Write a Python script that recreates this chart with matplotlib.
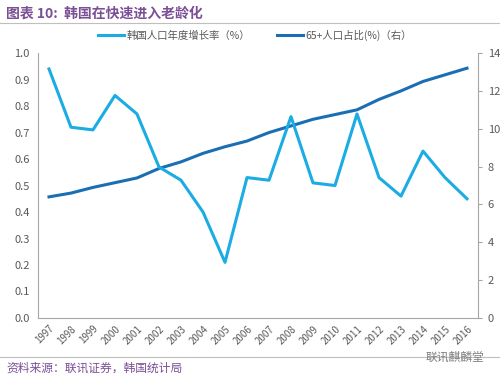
import matplotlib
matplotlib.use('Agg')
import matplotlib.pyplot as plt
from matplotlib.lines import Line2D

plt.rcParams['font.family'] = ['Noto Sans CJK SC', 'DejaVu Sans']

years = [str(y) for y in range(1997, 2017)]
growth = [0.94, 0.72, 0.71, 0.84, 0.77, 0.57, 0.52, 0.40, 0.21, 0.53,
          0.52, 0.76, 0.51, 0.50, 0.77, 0.53, 0.46, 0.63, 0.53, 0.45]
aged = [6.4, 6.6, 6.9, 7.15, 7.4, 7.9, 8.25, 8.7, 9.05, 9.35,
        9.8, 10.15, 10.5, 10.75, 11.0, 11.55, 12.0, 12.5, 12.85, 13.2]

LIGHT = '#1AACE3'
DARK = '#1A6EB4'
GRAY = '#595959'
PURPLE = '#7A4F96'

fig = plt.figure(figsize=(5.0, 3.79), dpi=100)
ax = fig.add_axes([0.076, 0.161, 0.88, 0.699])
ax2 = ax.twinx()

x = list(range(len(years)))
ax.plot(x, growth, color=LIGHT, lw=2.2, zorder=3)
ax2.plot(x, aged, color=DARK, lw=2.2, zorder=2)
ax.set_zorder(ax2.get_zorder() + 1)
ax.patch.set_visible(False)

ax.set_xlim(-0.5, len(years) - 0.5)
ax.set_ylim(0, 1.0)
ax2.set_ylim(0, 14)
ax.set_yticks([i / 10 for i in range(11)])
ax.set_yticklabels(['%.1f' % (i / 10) for i in range(11)])
ax2.set_yticks(range(0, 15, 2))
ax.set_xticks(x)
ax.set_xticklabels(years, rotation=45, ha='right', rotation_mode='anchor')

for a in (ax, ax2):
    for s in a.spines.values():
        s.set_visible(False)
    a.tick_params(colors=GRAY, labelsize=8)
ax.spines['left'].set_visible(True)
ax.spines['bottom'].set_visible(True)
ax.spines['left'].set_color('#A6A6A6')
ax.spines['bottom'].set_color('#A6A6A6')
ax2.spines['right'].set_visible(True)
ax2.spines['right'].set_color('#A6A6A6')
ax.tick_params(axis='y', length=0, pad=6)
ax.tick_params(axis='x', length=0, labelsize=7, pad=4)
ax2.tick_params(axis='y', length=3, color='#A6A6A6', pad=4)

fig.text(0.012, 0.965, '图表 10:  韩国在快速进入老龄化', color=PURPLE,
         fontsize=10, fontweight='bold', va='center')
fig.add_artist(Line2D([0, 1], [0.938, 0.938], color='#BFBFBF', lw=0.8))
fig.add_artist(Line2D([0, 1], [0.058, 0.058], color='#BFBFBF', lw=0.8))
fig.text(0.012, 0.028, '资料来源：联讯证券，韩国统计局', color=PURPLE,
         fontsize=8.5, style='italic', va='center')
fig.text(0.968, 0.058, '联讯麒麟堂', color='#7F7F7F', fontsize=8.5,
         ha='right', va='center')

handles = [Line2D([], [], color=LIGHT, lw=2.2), Line2D([], [], color=DARK, lw=2.2)]
labels = ['韩国人口年度增长率（%）', '65+人口占比(%)（右）']
fig.legend(handles, labels, loc='center', bbox_to_anchor=(0.51, 0.907), ncol=2,
           frameon=False, fontsize=7.5, labelcolor=GRAY, handlelength=2.5,
           columnspacing=2.6, handletextpad=0.2)

fig.savefig('out.png', dpi=100)
